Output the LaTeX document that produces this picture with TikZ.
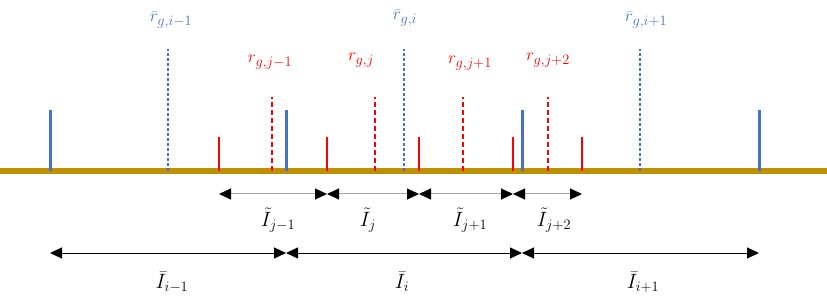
\documentclass[tikz,border=0pt]{standalone}
\usetikzlibrary{arrows.meta}
\definecolor{gold}{HTML}{BF9000}
\definecolor{bblue}{HTML}{4472C4}
\definecolor{rred}{HTML}{FF0000}
\definecolor{lgray}{HTML}{A6A6A6}
\begin{document}
\begin{tikzpicture}[x=1pt,y=-1pt,
  axisline/.style={gold,line width=6pt},
  bigtick/.style={bblue,line width=3pt},
  bluedash/.style={bblue,line width=1.3pt,dash pattern=on 3pt off 2pt},
  redtick/.style={rred,line width=1.6pt},
  reddash/.style={rred,line width=2pt,dash pattern=on 5pt off 3pt},
  blab/.style={text=bblue,font=\fontsize{19}{22}\selectfont,inner sep=0pt},
  rlab/.style={text=rred,font=\fontsize{19}{22}\selectfont,inner sep=0pt},
  ilab/.style={text=black,font=\fontsize{20}{23}\selectfont,inner sep=0pt},
  spanA/.style={lgray,line width=1pt,{Triangle[length=12pt,width=11pt,black]}-{Triangle[length=12pt,width=11pt,black]}},
  spanB/.style={black,line width=0.9pt,{Triangle[length=12pt,width=11pt]}-{Triangle[length=12pt,width=11pt]}}
]
\useasboundingbox (0,0) rectangle (827,304);
% axis
\coordinate (L) at (0,171);
\coordinate (R) at (827,171);
\draw[axisline] (L) -- (R);
% big blue ticks
\foreach \n/\x in {B0/50,B1/286,B2/522,B3/759}{
  \coordinate (\n) at (\x,171);
  \coordinate (\n t) at (\x,110);
  \draw[bigtick] (\n) -- (\n t);
}
% blue dashed
\foreach \n/\x in {D0/168,D1/404,D2/640}{
  \coordinate (\n) at (\x,171);
  \coordinate (\n t) at (\x,49);
  \draw[bluedash] (\n) -- (\n t);
}
% red short ticks
\foreach \n/\x in {S0/219,S1/327,S2/419,S3/513,S4/582}{
  \coordinate (\n) at (\x,171);
  \coordinate (\n t) at (\x,137);
  \draw[redtick] (\n) -- (\n t);
}
% red dashed
\foreach \n/\x in {E0/272,E1/375,E2/463,E3/548}{
  \coordinate (\n) at (\x,171);
  \coordinate (\n t) at (\x,97);
  \draw[reddash] (\n) -- (\n t);
}
% labels
\node[blab] (lb0) at (171,20) {$\bar r_{g,i-1}$};
\node[blab] (lb1) at (405,18) {$\bar r_{g,i}$};
\node[blab] (lb2) at (646,20) {$\bar r_{g,i+1}$};
\node[rlab] (lr0) at (270,62) {$r_{g,j-1}$};
\node[rlab] (lr1) at (361,60) {$r_{g,j}$};
\node[rlab] (lr2) at (470,63) {$r_{g,j+1}$};
\node[rlab] (lr3) at (548,60) {$r_{g,j+2}$};
% row 1 spans
\foreach \n/\x in {a0/219,a1/327,a2/419,a3/513,a4/582}{
  \coordinate (\n) at (\x,194);
}
\draw[spanA] (a0) -- (a1);
\draw[spanA] (a1) -- (a2);
\draw[spanA] (a2) -- (a3);
\draw[spanA] (a3) -- (a4);
\node[ilab] (t0) at (278,220) {$\tilde I_{j-1}$};
\node[ilab] (t1) at (368,220) {$\tilde I_{j}$};
\node[ilab] (t2) at (470,220) {$\tilde I_{j+1}$};
\node[ilab] (t3) at (554,220) {$\tilde I_{j+2}$};
% row 2 spans
\foreach \n/\x in {b0/50,b1/286,b2/522,b3/759}{
  \coordinate (\n) at (\x,253);
}
\draw[spanB] (b0) -- (b1);
\draw[spanB] (b1) -- (b2);
\draw[spanB] (b2) -- (b3);
\node[ilab] (u0) at (172,282) {$\bar I_{i-1}$};
\node[ilab] (u1) at (402,282) {$\bar I_{i}$};
\node[ilab] (u2) at (643,282) {$\bar I_{i+1}$};
\end{tikzpicture}
\end{document}
